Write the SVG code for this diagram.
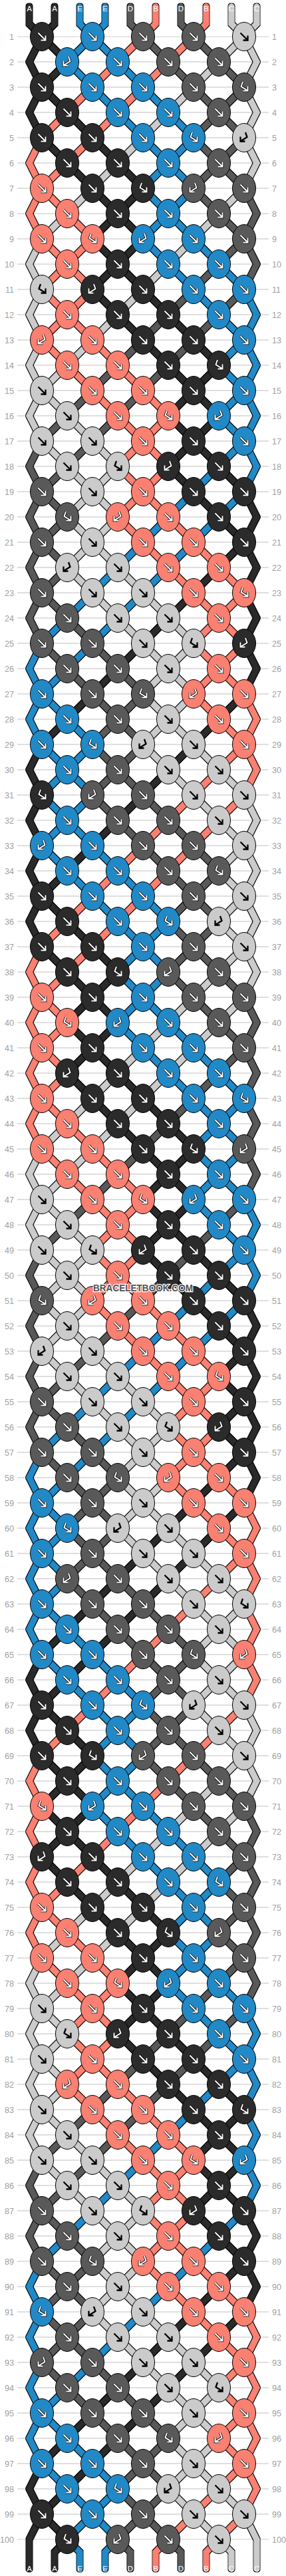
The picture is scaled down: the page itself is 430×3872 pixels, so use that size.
<svg xmlns="http://www.w3.org/2000/svg" xmlns:xlink="http://www.w3.org/1999/xlink" width="430" height="3872" viewBox="0 0 430 3872">
<style>
.a{stroke:#2b2b2b}.b{stroke:#fa8072}.c{stroke:#cbcbcb}.d{stroke:#595959}.e{stroke:#2289c7}
#connectors path{fill:none;stroke-width:9;stroke-linecap:round;stroke-linejoin:miter}
ellipse{stroke:#000;stroke-width:1}
.ka{fill:#2b2b2b}.kb{fill:#fa8072}.kc{fill:#cbcbcb}.kd{fill:#595959}.ke{fill:#2289c7}
.o{fill:none;stroke:#000;stroke-width:3.6}
.w{fill:none;stroke:#fff;stroke-width:2}
.k{fill:none;stroke:#000;stroke-width:2.3}
.rl{font-family:"Liberation Sans",Arial,sans-serif;font-size:12.6px;fill:#a0a0a0}
.sl{font-family:"Liberation Sans",Arial,sans-serif;font-size:11.5px;fill:#fff;text-anchor:middle}
.wm{font-family:"Liberation Sans",Arial,sans-serif;font-weight:bold;font-size:14.5px;fill:#505050;stroke:#fff;stroke-width:2.5;paint-order:stroke;text-anchor:middle}
</style>
<defs>
<filter id="ol"><feMorphology in="SourceAlpha" operator="dilate" radius="1" result="m"/><feFlood flood-color="#000"/><feComposite in2="m" operator="in"/><feMerge><feMergeNode/><feMergeNode in="SourceGraphic"/></feMerge></filter>
<pattern id="rp" width="430" height="38" patternUnits="userSpaceOnUse" y="54.5"><rect width="430" height="1" fill="#bfbfbf"/></pattern>
<path id="gf" d="M-5.5-5.5L5 5M5.5-1.5V5.5H-1.5"/>
<path id="gfb" d="M-2-8L-4.5-1L5 5M5.5-1.5V5.5H-1.5"/>
<path id="gbf" d="M2-8L4.5-1L-5 5M-5.5-1.5V5.5H1.5"/>
<g id="Af"><ellipse class="ka" rx="17.5" ry="21.5"/><use href="#gf" class="o"/><use href="#gf" class="w"/></g>
<g id="Afb"><ellipse class="ka" rx="17.5" ry="21.5"/><use href="#gfb" class="o"/><use href="#gfb" class="w"/></g>
<g id="Abf"><ellipse class="ka" rx="17.5" ry="21.5"/><use href="#gbf" class="o"/><use href="#gbf" class="w"/></g>
<g id="Bf"><ellipse class="kb" rx="17.5" ry="21.5"/><use href="#gf" class="o"/><use href="#gf" class="w"/></g>
<g id="Bfb"><ellipse class="kb" rx="17.5" ry="21.5"/><use href="#gfb" class="o"/><use href="#gfb" class="w"/></g>
<g id="Bbf"><ellipse class="kb" rx="17.5" ry="21.5"/><use href="#gbf" class="o"/><use href="#gbf" class="w"/></g>
<g id="Df"><ellipse class="kd" rx="17.5" ry="21.5"/><use href="#gf" class="o"/><use href="#gf" class="w"/></g>
<g id="Dfb"><ellipse class="kd" rx="17.5" ry="21.5"/><use href="#gfb" class="o"/><use href="#gfb" class="w"/></g>
<g id="Dbf"><ellipse class="kd" rx="17.5" ry="21.5"/><use href="#gbf" class="o"/><use href="#gbf" class="w"/></g>
<g id="Ef"><ellipse class="ke" rx="17.5" ry="21.5"/><use href="#gf" class="o"/><use href="#gf" class="w"/></g>
<g id="Efb"><ellipse class="ke" rx="17.5" ry="21.5"/><use href="#gfb" class="o"/><use href="#gfb" class="w"/></g>
<g id="Ebf"><ellipse class="ke" rx="17.5" ry="21.5"/><use href="#gbf" class="o"/><use href="#gbf" class="w"/></g>
<g id="Cf"><ellipse class="kc" rx="17.5" ry="21.5"/><use href="#gf" class="k"/></g>
<g id="Cfb"><ellipse class="kc" rx="17.5" ry="21.5"/><use href="#gfb" class="k"/></g>
<g id="Cbf"><ellipse class="kc" rx="17.5" ry="21.5"/><use href="#gbf" class="k"/></g>
</defs>
<rect width="430" height="3872" fill="#fff"/>
<rect x="26" y="54.5" width="378" height="3763" fill="url(#rp)"/>
<g text-anchor="end"><g id="rows" class="rl">
<text x="21" y="59.5">1</text><text x="21" y="97.5">2</text><text x="21" y="135.5">3</text><text x="21" y="173.5">4</text><text x="21" y="211.5">5</text><text x="21" y="249.5">6</text><text x="21" y="287.5">7</text><text x="21" y="325.5">8</text><text x="21" y="363.5">9</text><text x="21" y="401.5">10</text>
<text x="21" y="439.5">11</text><text x="21" y="477.5">12</text><text x="21" y="515.5">13</text><text x="21" y="553.5">14</text><text x="21" y="591.5">15</text><text x="21" y="629.5">16</text><text x="21" y="667.5">17</text><text x="21" y="705.5">18</text><text x="21" y="743.5">19</text><text x="21" y="781.5">20</text>
<text x="21" y="819.5">21</text><text x="21" y="857.5">22</text><text x="21" y="895.5">23</text><text x="21" y="933.5">24</text><text x="21" y="971.5">25</text><text x="21" y="1009.5">26</text><text x="21" y="1047.5">27</text><text x="21" y="1085.5">28</text><text x="21" y="1123.5">29</text><text x="21" y="1161.5">30</text>
<text x="21" y="1199.5">31</text><text x="21" y="1237.5">32</text><text x="21" y="1275.5">33</text><text x="21" y="1313.5">34</text><text x="21" y="1351.5">35</text><text x="21" y="1389.5">36</text><text x="21" y="1427.5">37</text><text x="21" y="1465.5">38</text><text x="21" y="1503.5">39</text><text x="21" y="1541.5">40</text>
<text x="21" y="1579.5">41</text><text x="21" y="1617.5">42</text><text x="21" y="1655.5">43</text><text x="21" y="1693.5">44</text><text x="21" y="1731.5">45</text><text x="21" y="1769.5">46</text><text x="21" y="1807.5">47</text><text x="21" y="1845.5">48</text><text x="21" y="1883.5">49</text><text x="21" y="1921.5">50</text>
<text x="21" y="1959.5">51</text><text x="21" y="1997.5">52</text><text x="21" y="2035.5">53</text><text x="21" y="2073.5">54</text><text x="21" y="2111.5">55</text><text x="21" y="2149.5">56</text><text x="21" y="2187.5">57</text><text x="21" y="2225.5">58</text><text x="21" y="2263.5">59</text><text x="21" y="2301.5">60</text>
<text x="21" y="2339.5">61</text><text x="21" y="2377.5">62</text><text x="21" y="2415.5">63</text><text x="21" y="2453.5">64</text><text x="21" y="2491.5">65</text><text x="21" y="2529.5">66</text><text x="21" y="2567.5">67</text><text x="21" y="2605.5">68</text><text x="21" y="2643.5">69</text><text x="21" y="2681.5">70</text>
<text x="21" y="2719.5">71</text><text x="21" y="2757.5">72</text><text x="21" y="2795.5">73</text><text x="21" y="2833.5">74</text><text x="21" y="2871.5">75</text><text x="21" y="2909.5">76</text><text x="21" y="2947.5">77</text><text x="21" y="2985.5">78</text><text x="21" y="3023.5">79</text><text x="21" y="3061.5">80</text>
<text x="21" y="3099.5">81</text><text x="21" y="3137.5">82</text><text x="21" y="3175.5">83</text><text x="21" y="3213.5">84</text><text x="21" y="3251.5">85</text><text x="21" y="3289.5">86</text><text x="21" y="3327.5">87</text><text x="21" y="3365.5">88</text><text x="21" y="3403.5">89</text><text x="21" y="3441.5">90</text>
<text x="21" y="3479.5">91</text><text x="21" y="3517.5">92</text><text x="21" y="3555.5">93</text><text x="21" y="3593.5">94</text><text x="21" y="3631.5">95</text><text x="21" y="3669.5">96</text><text x="21" y="3707.5">97</text><text x="21" y="3745.5">98</text><text x="21" y="3783.5">99</text><text x="21" y="3821.5">100</text>
</g></g>
<use href="#rows" x="388" text-anchor="start"/>
<g id="connectors" filter="url(#ol)">
<path class="a" d="M44 10V36L63 55M82 10V36L63 55"/><path class="e" d="M120 10V36L139 55M158 10V36L139 55"/><path class="d" d="M196 10V36L215 55M272 10V36L291 55"/><path class="b" d="M234 10V36L215 55M310 10V36L291 55"/><path class="c" d="M348 10V36L367 55M386 10V36L367 55"/>
<path class="a" d="M63 55l-19 38 19 38-19 38 19 38"/><path class="b" d="M63 207l-19 38 19 38-19 38 19 38"/><path class="c" d="M63 359l-19 38 19 38-19 38 19 38-19 38 19 38-19 38 19 38"/><path class="d" d="M63 663l-19 38 19 38-19 38 19 38-19 38 19 38-19 38 19 38"/><path class="e" d="M63 967l-19 38 19 38-19 38 19 38"/><path class="a" d="M63 1119l-19 38 19 38-19 38 19 38-19 38 19 38-19 38 19 38"/><path class="b" d="M63 1423l-19 38 19 38-19 38 19 38-19 38 19 38-19 38 19 38"/><path class="c" d="M63 1727l-19 38 19 38-19 38 19 38"/><path class="d" d="M63 1879l-19 38 19 38-19 38 19 38-19 38 19 38-19 38 19 38"/><path class="e" d="M63 2183l-19 38 19 38-19 38 19 38-19 38 19 38-19 38 19 38"/><path class="a" d="M63 2487l-19 38 19 38-19 38 19 38"/><path class="b" d="M63 2639l-19 38 19 38-19 38 19 38-19 38 19 38-19 38 19 38"/><path class="c" d="M63 2943l-19 38 19 38-19 38 19 38-19 38 19 38-19 38 19 38"/><path class="d" d="M63 3247l-19 38 19 38-19 38 19 38"/><path class="e" d="M63 3399l-19 38 19 38-19 38 19 38-19 38 19 38-19 38 19 38"/><path class="a" d="M63 3703l-19 38 19 38-19 38V3861"/>
<path class="c" d="M367 55l19 38-19 38 19 38-19 38 19 38-19 38"/><path class="d" d="M367 283l19 38-19 38 19 38-19 38"/><path class="e" d="M367 435l19 38-19 38 19 38-19 38 19 38-19 38 19 38-19 38"/><path class="a" d="M367 739l19 38-19 38 19 38-19 38 19 38-19 38 19 38-19 38"/><path class="b" d="M367 1043l19 38-19 38 19 38-19 38"/><path class="c" d="M367 1195l19 38-19 38 19 38-19 38 19 38-19 38 19 38-19 38"/><path class="d" d="M367 1499l19 38-19 38 19 38-19 38 19 38-19 38 19 38-19 38"/><path class="e" d="M367 1803l19 38-19 38 19 38-19 38"/><path class="a" d="M367 1955l19 38-19 38 19 38-19 38 19 38-19 38 19 38-19 38"/><path class="b" d="M367 2259l19 38-19 38 19 38-19 38 19 38-19 38 19 38-19 38"/><path class="c" d="M367 2563l19 38-19 38 19 38-19 38"/><path class="d" d="M367 2715l19 38-19 38 19 38-19 38 19 38-19 38 19 38-19 38"/><path class="e" d="M367 3019l19 38-19 38 19 38-19 38 19 38-19 38 19 38-19 38"/><path class="a" d="M367 3323l19 38-19 38 19 38-19 38"/><path class="b" d="M367 3475l19 38-19 38 19 38-19 38 19 38-19 38 19 38-19 38"/><path class="c" d="M367 3779l19 38V3861"/>
<path class="a" d="M101 3817L82 3836V3861"/><path class="e" d="M101 3817L120 3836V3861M177 3817L158 3836V3861"/><path class="d" d="M177 3817L196 3836V3861M253 3817L272 3836V3861"/><path class="b" d="M253 3817L234 3836V3861M329 3817L310 3836V3861"/><path class="c" d="M329 3817L348 3836V3861"/>
<path class="a" d="M63 55l38 38"/><path class="e" d="M139 55l-38 38M139 55l38 38"/><path class="b" d="M215 55l-38 38M291 55l-38 38"/><path class="d" d="M215 55l38 38M291 55l38 38"/><path class="c" d="M367 55l-38 38"/>
<path class="a" d="M101 93l-38 38"/><path class="e" d="M101 93l38 38M177 93l38 38"/><path class="b" d="M177 93l-38 38M253 93l-38 38"/><path class="d" d="M253 93l38 38M329 93l38 38"/><path class="c" d="M329 93l-38 38"/>
<path class="a" d="M63 131l38 38"/><path class="b" d="M139 131l-38 38M215 131l-38 38"/><path class="e" d="M139 131l38 38M215 131l38 38"/><path class="c" d="M291 131l-38 38"/><path class="d" d="M291 131l38 38M367 131l-38 38"/>
<path class="b" d="M101 169l-38 38M177 169l-38 38"/><path class="a" d="M101 169l38 38"/><path class="e" d="M177 169l38 38M253 169l38 38"/><path class="c" d="M253 169l-38 38"/><path class="d" d="M329 169l-38 38M329 169l38 38"/>
<path class="a" d="M63 207l38 38M139 207l38 38"/><path class="b" d="M139 207l-38 38"/><path class="c" d="M215 207l-38 38"/><path class="e" d="M215 207l38 38M291 207l-38 38"/><path class="d" d="M291 207l38 38M367 207l-38 38"/>
<path class="b" d="M101 245l-38 38"/><path class="a" d="M101 245l38 38M177 245l38 38"/><path class="c" d="M177 245l-38 38"/><path class="e" d="M253 245l-38 38M253 245l38 38"/><path class="d" d="M329 245l-38 38M329 245l38 38"/>
<path class="b" d="M63 283l38 38"/><path class="c" d="M139 283l-38 38M367 283l-38 38"/><path class="a" d="M139 283l38 38M215 283l-38 38"/><path class="e" d="M215 283l38 38M291 283l-38 38"/><path class="d" d="M291 283l38 38"/>
<path class="c" d="M101 321l-38 38M329 321l-38 38"/><path class="b" d="M101 321l38 38"/><path class="a" d="M177 321l-38 38M177 321l38 38"/><path class="e" d="M253 321l-38 38M253 321l38 38"/><path class="d" d="M329 321l38 38"/>
<path class="b" d="M63 359l38 38M139 359l-38 38"/><path class="a" d="M139 359l38 38M215 359l-38 38"/><path class="e" d="M215 359l38 38M291 359l38 38"/><path class="c" d="M291 359l-38 38"/><path class="d" d="M367 359l-38 38"/>
<path class="b" d="M101 397l-38 38M101 397l38 38"/><path class="a" d="M177 397l-38 38M177 397l38 38"/><path class="c" d="M253 397l-38 38"/><path class="e" d="M253 397l38 38M329 397l38 38"/><path class="d" d="M329 397l-38 38"/>
<path class="b" d="M63 435l38 38M139 435l-38 38"/><path class="a" d="M139 435l38 38M215 435l38 38"/><path class="c" d="M215 435l-38 38"/><path class="d" d="M291 435l-38 38M367 435l-38 38"/><path class="e" d="M291 435l38 38"/>
<path class="b" d="M101 473l-38 38M101 473l38 38"/><path class="c" d="M177 473l-38 38"/><path class="a" d="M177 473l38 38M253 473l38 38"/><path class="d" d="M253 473l-38 38M329 473l-38 38"/><path class="e" d="M329 473l38 38"/>
<path class="b" d="M63 511l38 38M139 511l38 38"/><path class="c" d="M139 511l-38 38"/><path class="d" d="M215 511l-38 38M291 511l-38 38"/><path class="a" d="M215 511l38 38M291 511l38 38"/><path class="e" d="M367 511l-38 38"/>
<path class="c" d="M101 549l-38 38"/><path class="b" d="M101 549l38 38M177 549l38 38"/><path class="d" d="M177 549l-38 38M253 549l-38 38"/><path class="a" d="M253 549l38 38M329 549l-38 38"/><path class="e" d="M329 549l38 38"/>
<path class="c" d="M63 587l38 38"/><path class="d" d="M139 587l-38 38M215 587l-38 38"/><path class="b" d="M139 587l38 38M215 587l38 38"/><path class="a" d="M291 587l-38 38M291 587l38 38"/><path class="e" d="M367 587l-38 38"/>
<path class="d" d="M101 625l-38 38M177 625l-38 38"/><path class="c" d="M101 625l38 38"/><path class="b" d="M177 625l38 38M253 625l-38 38"/><path class="a" d="M253 625l38 38M329 625l-38 38"/><path class="e" d="M329 625l38 38"/>
<path class="c" d="M63 663l38 38M139 663l38 38"/><path class="d" d="M139 663l-38 38"/><path class="b" d="M215 663l-38 38M215 663l38 38"/><path class="a" d="M291 663l-38 38M291 663l38 38"/><path class="e" d="M367 663l-38 38"/>
<path class="d" d="M101 701l-38 38"/><path class="c" d="M101 701l38 38M177 701l-38 38"/><path class="b" d="M177 701l38 38M253 701l-38 38"/><path class="a" d="M253 701l38 38M329 701l38 38"/><path class="e" d="M329 701l-38 38"/>
<path class="d" d="M63 739l38 38"/><path class="c" d="M139 739l-38 38M139 739l38 38"/><path class="b" d="M215 739l-38 38M215 739l38 38"/><path class="e" d="M291 739l-38 38M367 739l-38 38"/><path class="a" d="M291 739l38 38"/>
<path class="d" d="M101 777l-38 38"/><path class="c" d="M101 777l38 38M177 777l-38 38"/><path class="b" d="M177 777l38 38M253 777l38 38"/><path class="e" d="M253 777l-38 38M329 777l-38 38"/><path class="a" d="M329 777l38 38"/>
<path class="d" d="M63 815l38 38"/><path class="c" d="M139 815l-38 38M139 815l38 38"/><path class="e" d="M215 815l-38 38M291 815l-38 38"/><path class="b" d="M215 815l38 38M291 815l38 38"/><path class="a" d="M367 815l-38 38"/>
<path class="d" d="M101 853l-38 38"/><path class="c" d="M101 853l38 38M177 853l38 38"/><path class="e" d="M177 853l-38 38M253 853l-38 38"/><path class="b" d="M253 853l38 38M329 853l38 38"/><path class="a" d="M329 853l-38 38"/>
<path class="d" d="M63 891l38 38"/><path class="e" d="M139 891l-38 38M215 891l-38 38"/><path class="c" d="M139 891l38 38M215 891l38 38"/><path class="a" d="M291 891l-38 38"/><path class="b" d="M291 891l38 38M367 891l-38 38"/>
<path class="e" d="M101 929l-38 38M177 929l-38 38"/><path class="d" d="M101 929l38 38"/><path class="c" d="M177 929l38 38M253 929l38 38"/><path class="a" d="M253 929l-38 38"/><path class="b" d="M329 929l-38 38M329 929l38 38"/>
<path class="d" d="M63 967l38 38M139 967l38 38"/><path class="e" d="M139 967l-38 38"/><path class="a" d="M215 967l-38 38"/><path class="c" d="M215 967l38 38M291 967l-38 38"/><path class="b" d="M291 967l38 38M367 967l-38 38"/>
<path class="e" d="M101 1005l-38 38"/><path class="d" d="M101 1005l38 38M177 1005l38 38"/><path class="a" d="M177 1005l-38 38"/><path class="c" d="M253 1005l-38 38M253 1005l38 38"/><path class="b" d="M329 1005l-38 38M329 1005l38 38"/>
<path class="e" d="M63 1043l38 38"/><path class="a" d="M139 1043l-38 38M367 1043l-38 38"/><path class="d" d="M139 1043l38 38M215 1043l-38 38"/><path class="c" d="M215 1043l38 38M291 1043l-38 38"/><path class="b" d="M291 1043l38 38"/>
<path class="a" d="M101 1081l-38 38M329 1081l-38 38"/><path class="e" d="M101 1081l38 38"/><path class="d" d="M177 1081l-38 38M177 1081l38 38"/><path class="c" d="M253 1081l-38 38M253 1081l38 38"/><path class="b" d="M329 1081l38 38"/>
<path class="e" d="M63 1119l38 38M139 1119l-38 38"/><path class="d" d="M139 1119l38 38M215 1119l-38 38"/><path class="c" d="M215 1119l38 38M291 1119l38 38"/><path class="a" d="M291 1119l-38 38"/><path class="b" d="M367 1119l-38 38"/>
<path class="e" d="M101 1157l-38 38M101 1157l38 38"/><path class="d" d="M177 1157l-38 38M177 1157l38 38"/><path class="a" d="M253 1157l-38 38"/><path class="c" d="M253 1157l38 38M329 1157l38 38"/><path class="b" d="M329 1157l-38 38"/>
<path class="e" d="M63 1195l38 38M139 1195l-38 38"/><path class="d" d="M139 1195l38 38M215 1195l38 38"/><path class="a" d="M215 1195l-38 38"/><path class="b" d="M291 1195l-38 38M367 1195l-38 38"/><path class="c" d="M291 1195l38 38"/>
<path class="e" d="M101 1233l-38 38M101 1233l38 38"/><path class="a" d="M177 1233l-38 38"/><path class="d" d="M177 1233l38 38M253 1233l38 38"/><path class="b" d="M253 1233l-38 38M329 1233l-38 38"/><path class="c" d="M329 1233l38 38"/>
<path class="e" d="M63 1271l38 38M139 1271l38 38"/><path class="a" d="M139 1271l-38 38"/><path class="b" d="M215 1271l-38 38M291 1271l-38 38"/><path class="d" d="M215 1271l38 38M291 1271l38 38"/><path class="c" d="M367 1271l-38 38"/>
<path class="a" d="M101 1309l-38 38"/><path class="e" d="M101 1309l38 38M177 1309l38 38"/><path class="b" d="M177 1309l-38 38M253 1309l-38 38"/><path class="d" d="M253 1309l38 38M329 1309l-38 38"/><path class="c" d="M329 1309l38 38"/>
<path class="a" d="M63 1347l38 38"/><path class="b" d="M139 1347l-38 38M215 1347l-38 38"/><path class="e" d="M139 1347l38 38M215 1347l38 38"/><path class="d" d="M291 1347l-38 38M291 1347l38 38"/><path class="c" d="M367 1347l-38 38"/>
<path class="b" d="M101 1385l-38 38M177 1385l-38 38"/><path class="a" d="M101 1385l38 38"/><path class="e" d="M177 1385l38 38M253 1385l-38 38"/><path class="d" d="M253 1385l38 38M329 1385l-38 38"/><path class="c" d="M329 1385l38 38"/>
<path class="a" d="M63 1423l38 38M139 1423l38 38"/><path class="b" d="M139 1423l-38 38"/><path class="e" d="M215 1423l-38 38M215 1423l38 38"/><path class="d" d="M291 1423l-38 38M291 1423l38 38"/><path class="c" d="M367 1423l-38 38"/>
<path class="b" d="M101 1461l-38 38"/><path class="a" d="M101 1461l38 38M177 1461l-38 38"/><path class="e" d="M177 1461l38 38M253 1461l-38 38"/><path class="d" d="M253 1461l38 38M329 1461l38 38"/><path class="c" d="M329 1461l-38 38"/>
<path class="b" d="M63 1499l38 38"/><path class="a" d="M139 1499l-38 38M139 1499l38 38"/><path class="e" d="M215 1499l-38 38M215 1499l38 38"/><path class="c" d="M291 1499l-38 38M367 1499l-38 38"/><path class="d" d="M291 1499l38 38"/>
<path class="b" d="M101 1537l-38 38"/><path class="a" d="M101 1537l38 38M177 1537l-38 38"/><path class="e" d="M177 1537l38 38M253 1537l38 38"/><path class="c" d="M253 1537l-38 38M329 1537l-38 38"/><path class="d" d="M329 1537l38 38"/>
<path class="b" d="M63 1575l38 38"/><path class="a" d="M139 1575l-38 38M139 1575l38 38"/><path class="c" d="M215 1575l-38 38M291 1575l-38 38"/><path class="e" d="M215 1575l38 38M291 1575l38 38"/><path class="d" d="M367 1575l-38 38"/>
<path class="b" d="M101 1613l-38 38"/><path class="a" d="M101 1613l38 38M177 1613l38 38"/><path class="c" d="M177 1613l-38 38M253 1613l-38 38"/><path class="e" d="M253 1613l38 38M329 1613l38 38"/><path class="d" d="M329 1613l-38 38"/>
<path class="b" d="M63 1651l38 38"/><path class="c" d="M139 1651l-38 38M215 1651l-38 38"/><path class="a" d="M139 1651l38 38M215 1651l38 38"/><path class="d" d="M291 1651l-38 38"/><path class="e" d="M291 1651l38 38M367 1651l-38 38"/>
<path class="c" d="M101 1689l-38 38M177 1689l-38 38"/><path class="b" d="M101 1689l38 38"/><path class="a" d="M177 1689l38 38M253 1689l38 38"/><path class="d" d="M253 1689l-38 38"/><path class="e" d="M329 1689l-38 38M329 1689l38 38"/>
<path class="b" d="M63 1727l38 38M139 1727l38 38"/><path class="c" d="M139 1727l-38 38"/><path class="d" d="M215 1727l-38 38"/><path class="a" d="M215 1727l38 38M291 1727l-38 38"/><path class="e" d="M291 1727l38 38M367 1727l-38 38"/>
<path class="c" d="M101 1765l-38 38"/><path class="b" d="M101 1765l38 38M177 1765l38 38"/><path class="d" d="M177 1765l-38 38"/><path class="a" d="M253 1765l-38 38M253 1765l38 38"/><path class="e" d="M329 1765l-38 38M329 1765l38 38"/>
<path class="c" d="M63 1803l38 38"/><path class="d" d="M139 1803l-38 38M367 1803l-38 38"/><path class="b" d="M139 1803l38 38M215 1803l-38 38"/><path class="a" d="M215 1803l38 38M291 1803l-38 38"/><path class="e" d="M291 1803l38 38"/>
<path class="d" d="M101 1841l-38 38M329 1841l-38 38"/><path class="c" d="M101 1841l38 38"/><path class="b" d="M177 1841l-38 38M177 1841l38 38"/><path class="a" d="M253 1841l-38 38M253 1841l38 38"/><path class="e" d="M329 1841l38 38"/>
<path class="c" d="M63 1879l38 38M139 1879l-38 38"/><path class="b" d="M139 1879l38 38M215 1879l-38 38"/><path class="a" d="M215 1879l38 38M291 1879l38 38"/><path class="d" d="M291 1879l-38 38"/><path class="e" d="M367 1879l-38 38"/>
<path class="c" d="M101 1917l-38 38M101 1917l38 38"/><path class="b" d="M177 1917l-38 38M177 1917l38 38"/><path class="d" d="M253 1917l-38 38"/><path class="a" d="M253 1917l38 38M329 1917l38 38"/><path class="e" d="M329 1917l-38 38"/>
<path class="c" d="M63 1955l38 38M139 1955l-38 38"/><path class="b" d="M139 1955l38 38M215 1955l38 38"/><path class="d" d="M215 1955l-38 38"/><path class="e" d="M291 1955l-38 38M367 1955l-38 38"/><path class="a" d="M291 1955l38 38"/>
<path class="c" d="M101 1993l-38 38M101 1993l38 38"/><path class="d" d="M177 1993l-38 38"/><path class="b" d="M177 1993l38 38M253 1993l38 38"/><path class="e" d="M253 1993l-38 38M329 1993l-38 38"/><path class="a" d="M329 1993l38 38"/>
<path class="c" d="M63 2031l38 38M139 2031l38 38"/><path class="d" d="M139 2031l-38 38"/><path class="e" d="M215 2031l-38 38M291 2031l-38 38"/><path class="b" d="M215 2031l38 38M291 2031l38 38"/><path class="a" d="M367 2031l-38 38"/>
<path class="d" d="M101 2069l-38 38"/><path class="c" d="M101 2069l38 38M177 2069l38 38"/><path class="e" d="M177 2069l-38 38M253 2069l-38 38"/><path class="b" d="M253 2069l38 38M329 2069l-38 38"/><path class="a" d="M329 2069l38 38"/>
<path class="d" d="M63 2107l38 38"/><path class="e" d="M139 2107l-38 38M215 2107l-38 38"/><path class="c" d="M139 2107l38 38M215 2107l38 38"/><path class="b" d="M291 2107l-38 38M291 2107l38 38"/><path class="a" d="M367 2107l-38 38"/>
<path class="e" d="M101 2145l-38 38M177 2145l-38 38"/><path class="d" d="M101 2145l38 38"/><path class="c" d="M177 2145l38 38M253 2145l-38 38"/><path class="b" d="M253 2145l38 38M329 2145l-38 38"/><path class="a" d="M329 2145l38 38"/>
<path class="d" d="M63 2183l38 38M139 2183l38 38"/><path class="e" d="M139 2183l-38 38"/><path class="c" d="M215 2183l-38 38M215 2183l38 38"/><path class="b" d="M291 2183l-38 38M291 2183l38 38"/><path class="a" d="M367 2183l-38 38"/>
<path class="e" d="M101 2221l-38 38"/><path class="d" d="M101 2221l38 38M177 2221l-38 38"/><path class="c" d="M177 2221l38 38M253 2221l-38 38"/><path class="b" d="M253 2221l38 38M329 2221l38 38"/><path class="a" d="M329 2221l-38 38"/>
<path class="e" d="M63 2259l38 38"/><path class="d" d="M139 2259l-38 38M139 2259l38 38"/><path class="c" d="M215 2259l-38 38M215 2259l38 38"/><path class="a" d="M291 2259l-38 38M367 2259l-38 38"/><path class="b" d="M291 2259l38 38"/>
<path class="e" d="M101 2297l-38 38"/><path class="d" d="M101 2297l38 38M177 2297l-38 38"/><path class="c" d="M177 2297l38 38M253 2297l38 38"/><path class="a" d="M253 2297l-38 38M329 2297l-38 38"/><path class="b" d="M329 2297l38 38"/>
<path class="e" d="M63 2335l38 38"/><path class="d" d="M139 2335l-38 38M139 2335l38 38"/><path class="a" d="M215 2335l-38 38M291 2335l-38 38"/><path class="c" d="M215 2335l38 38M291 2335l38 38"/><path class="b" d="M367 2335l-38 38"/>
<path class="e" d="M101 2373l-38 38"/><path class="d" d="M101 2373l38 38M177 2373l38 38"/><path class="a" d="M177 2373l-38 38M253 2373l-38 38"/><path class="c" d="M253 2373l38 38M329 2373l38 38"/><path class="b" d="M329 2373l-38 38"/>
<path class="e" d="M63 2411l38 38"/><path class="a" d="M139 2411l-38 38M215 2411l-38 38"/><path class="d" d="M139 2411l38 38M215 2411l38 38"/><path class="b" d="M291 2411l-38 38"/><path class="c" d="M291 2411l38 38M367 2411l-38 38"/>
<path class="a" d="M101 2449l-38 38M177 2449l-38 38"/><path class="e" d="M101 2449l38 38"/><path class="d" d="M177 2449l38 38M253 2449l38 38"/><path class="b" d="M253 2449l-38 38"/><path class="c" d="M329 2449l-38 38M329 2449l38 38"/>
<path class="e" d="M63 2487l38 38M139 2487l38 38"/><path class="a" d="M139 2487l-38 38"/><path class="b" d="M215 2487l-38 38"/><path class="d" d="M215 2487l38 38M291 2487l-38 38"/><path class="c" d="M291 2487l38 38M367 2487l-38 38"/>
<path class="a" d="M101 2525l-38 38"/><path class="e" d="M101 2525l38 38M177 2525l38 38"/><path class="b" d="M177 2525l-38 38"/><path class="d" d="M253 2525l-38 38M253 2525l38 38"/><path class="c" d="M329 2525l-38 38M329 2525l38 38"/>
<path class="a" d="M63 2563l38 38"/><path class="b" d="M139 2563l-38 38M367 2563l-38 38"/><path class="e" d="M139 2563l38 38M215 2563l-38 38"/><path class="d" d="M215 2563l38 38M291 2563l-38 38"/><path class="c" d="M291 2563l38 38"/>
<path class="b" d="M101 2601l-38 38M329 2601l-38 38"/><path class="a" d="M101 2601l38 38"/><path class="e" d="M177 2601l-38 38M177 2601l38 38"/><path class="d" d="M253 2601l-38 38M253 2601l38 38"/><path class="c" d="M329 2601l38 38"/>
<path class="a" d="M63 2639l38 38M139 2639l-38 38"/><path class="e" d="M139 2639l38 38M215 2639l-38 38"/><path class="d" d="M215 2639l38 38M291 2639l38 38"/><path class="b" d="M291 2639l-38 38"/><path class="c" d="M367 2639l-38 38"/>
<path class="a" d="M101 2677l-38 38M101 2677l38 38"/><path class="e" d="M177 2677l-38 38M177 2677l38 38"/><path class="b" d="M253 2677l-38 38"/><path class="d" d="M253 2677l38 38M329 2677l38 38"/><path class="c" d="M329 2677l-38 38"/>
<path class="a" d="M63 2715l38 38M139 2715l-38 38"/><path class="e" d="M139 2715l38 38M215 2715l38 38"/><path class="b" d="M215 2715l-38 38"/><path class="c" d="M291 2715l-38 38M367 2715l-38 38"/><path class="d" d="M291 2715l38 38"/>
<path class="a" d="M101 2753l-38 38M101 2753l38 38"/><path class="b" d="M177 2753l-38 38"/><path class="e" d="M177 2753l38 38M253 2753l38 38"/><path class="c" d="M253 2753l-38 38M329 2753l-38 38"/><path class="d" d="M329 2753l38 38"/>
<path class="a" d="M63 2791l38 38M139 2791l38 38"/><path class="b" d="M139 2791l-38 38"/><path class="c" d="M215 2791l-38 38M291 2791l-38 38"/><path class="e" d="M215 2791l38 38M291 2791l38 38"/><path class="d" d="M367 2791l-38 38"/>
<path class="b" d="M101 2829l-38 38"/><path class="a" d="M101 2829l38 38M177 2829l38 38"/><path class="c" d="M177 2829l-38 38M253 2829l-38 38"/><path class="e" d="M253 2829l38 38M329 2829l-38 38"/><path class="d" d="M329 2829l38 38"/>
<path class="b" d="M63 2867l38 38"/><path class="c" d="M139 2867l-38 38M215 2867l-38 38"/><path class="a" d="M139 2867l38 38M215 2867l38 38"/><path class="e" d="M291 2867l-38 38M291 2867l38 38"/><path class="d" d="M367 2867l-38 38"/>
<path class="c" d="M101 2905l-38 38M177 2905l-38 38"/><path class="b" d="M101 2905l38 38"/><path class="a" d="M177 2905l38 38M253 2905l-38 38"/><path class="e" d="M253 2905l38 38M329 2905l-38 38"/><path class="d" d="M329 2905l38 38"/>
<path class="b" d="M63 2943l38 38M139 2943l38 38"/><path class="c" d="M139 2943l-38 38"/><path class="a" d="M215 2943l-38 38M215 2943l38 38"/><path class="e" d="M291 2943l-38 38M291 2943l38 38"/><path class="d" d="M367 2943l-38 38"/>
<path class="c" d="M101 2981l-38 38"/><path class="b" d="M101 2981l38 38M177 2981l-38 38"/><path class="a" d="M177 2981l38 38M253 2981l-38 38"/><path class="e" d="M253 2981l38 38M329 2981l38 38"/><path class="d" d="M329 2981l-38 38"/>
<path class="c" d="M63 3019l38 38"/><path class="b" d="M139 3019l-38 38M139 3019l38 38"/><path class="a" d="M215 3019l-38 38M215 3019l38 38"/><path class="d" d="M291 3019l-38 38M367 3019l-38 38"/><path class="e" d="M291 3019l38 38"/>
<path class="c" d="M101 3057l-38 38"/><path class="b" d="M101 3057l38 38M177 3057l-38 38"/><path class="a" d="M177 3057l38 38M253 3057l38 38"/><path class="d" d="M253 3057l-38 38M329 3057l-38 38"/><path class="e" d="M329 3057l38 38"/>
<path class="c" d="M63 3095l38 38"/><path class="b" d="M139 3095l-38 38M139 3095l38 38"/><path class="d" d="M215 3095l-38 38M291 3095l-38 38"/><path class="a" d="M215 3095l38 38M291 3095l38 38"/><path class="e" d="M367 3095l-38 38"/>
<path class="c" d="M101 3133l-38 38"/><path class="b" d="M101 3133l38 38M177 3133l38 38"/><path class="d" d="M177 3133l-38 38M253 3133l-38 38"/><path class="a" d="M253 3133l38 38M329 3133l38 38"/><path class="e" d="M329 3133l-38 38"/>
<path class="c" d="M63 3171l38 38"/><path class="d" d="M139 3171l-38 38M215 3171l-38 38"/><path class="b" d="M139 3171l38 38M215 3171l38 38"/><path class="e" d="M291 3171l-38 38"/><path class="a" d="M291 3171l38 38M367 3171l-38 38"/>
<path class="d" d="M101 3209l-38 38M177 3209l-38 38"/><path class="c" d="M101 3209l38 38"/><path class="b" d="M177 3209l38 38M253 3209l38 38"/><path class="e" d="M253 3209l-38 38"/><path class="a" d="M329 3209l-38 38M329 3209l38 38"/>
<path class="c" d="M63 3247l38 38M139 3247l38 38"/><path class="d" d="M139 3247l-38 38"/><path class="e" d="M215 3247l-38 38"/><path class="b" d="M215 3247l38 38M291 3247l-38 38"/><path class="a" d="M291 3247l38 38M367 3247l-38 38"/>
<path class="d" d="M101 3285l-38 38"/><path class="c" d="M101 3285l38 38M177 3285l38 38"/><path class="e" d="M177 3285l-38 38"/><path class="b" d="M253 3285l-38 38M253 3285l38 38"/><path class="a" d="M329 3285l-38 38M329 3285l38 38"/>
<path class="d" d="M63 3323l38 38"/><path class="e" d="M139 3323l-38 38M367 3323l-38 38"/><path class="c" d="M139 3323l38 38M215 3323l-38 38"/><path class="b" d="M215 3323l38 38M291 3323l-38 38"/><path class="a" d="M291 3323l38 38"/>
<path class="e" d="M101 3361l-38 38M329 3361l-38 38"/><path class="d" d="M101 3361l38 38"/><path class="c" d="M177 3361l-38 38M177 3361l38 38"/><path class="b" d="M253 3361l-38 38M253 3361l38 38"/><path class="a" d="M329 3361l38 38"/>
<path class="d" d="M63 3399l38 38M139 3399l-38 38"/><path class="c" d="M139 3399l38 38M215 3399l-38 38"/><path class="b" d="M215 3399l38 38M291 3399l38 38"/><path class="e" d="M291 3399l-38 38"/><path class="a" d="M367 3399l-38 38"/>
<path class="d" d="M101 3437l-38 38M101 3437l38 38"/><path class="c" d="M177 3437l-38 38M177 3437l38 38"/><path class="e" d="M253 3437l-38 38"/><path class="b" d="M253 3437l38 38M329 3437l38 38"/><path class="a" d="M329 3437l-38 38"/>
<path class="d" d="M63 3475l38 38M139 3475l-38 38"/><path class="c" d="M139 3475l38 38M215 3475l38 38"/><path class="e" d="M215 3475l-38 38"/><path class="a" d="M291 3475l-38 38M367 3475l-38 38"/><path class="b" d="M291 3475l38 38"/>
<path class="d" d="M101 3513l-38 38M101 3513l38 38"/><path class="e" d="M177 3513l-38 38"/><path class="c" d="M177 3513l38 38M253 3513l38 38"/><path class="a" d="M253 3513l-38 38M329 3513l-38 38"/><path class="b" d="M329 3513l38 38"/>
<path class="d" d="M63 3551l38 38M139 3551l38 38"/><path class="e" d="M139 3551l-38 38"/><path class="a" d="M215 3551l-38 38M291 3551l-38 38"/><path class="c" d="M215 3551l38 38M291 3551l38 38"/><path class="b" d="M367 3551l-38 38"/>
<path class="e" d="M101 3589l-38 38"/><path class="d" d="M101 3589l38 38M177 3589l38 38"/><path class="a" d="M177 3589l-38 38M253 3589l-38 38"/><path class="c" d="M253 3589l38 38M329 3589l-38 38"/><path class="b" d="M329 3589l38 38"/>
<path class="e" d="M63 3627l38 38"/><path class="a" d="M139 3627l-38 38M215 3627l-38 38"/><path class="d" d="M139 3627l38 38M215 3627l38 38"/><path class="c" d="M291 3627l-38 38M291 3627l38 38"/><path class="b" d="M367 3627l-38 38"/>
<path class="a" d="M101 3665l-38 38M177 3665l-38 38"/><path class="e" d="M101 3665l38 38"/><path class="d" d="M177 3665l38 38M253 3665l-38 38"/><path class="c" d="M253 3665l38 38M329 3665l-38 38"/><path class="b" d="M329 3665l38 38"/>
<path class="e" d="M63 3703l38 38M139 3703l38 38"/><path class="a" d="M139 3703l-38 38"/><path class="d" d="M215 3703l-38 38M215 3703l38 38"/><path class="c" d="M291 3703l-38 38M291 3703l38 38"/><path class="b" d="M367 3703l-38 38"/>
<path class="a" d="M101 3741l-38 38"/><path class="e" d="M101 3741l38 38M177 3741l-38 38"/><path class="d" d="M177 3741l38 38M253 3741l-38 38"/><path class="c" d="M253 3741l38 38M329 3741l38 38"/><path class="b" d="M329 3741l-38 38"/>
<path class="a" d="M63 3779l38 38"/><path class="e" d="M139 3779l-38 38M139 3779l38 38"/><path class="d" d="M215 3779l-38 38M215 3779l38 38"/><path class="b" d="M291 3779l-38 38M367 3779l-38 38"/><path class="c" d="M291 3779l38 38"/>
</g>
<g id="knots">
<g id="k1-1"><use href="#Af" x="63" y="55"/></g><g id="k1-2"><use href="#Ef" x="139" y="55"/></g><g id="k1-3"><use href="#Df" x="215" y="55"/></g><g id="k1-4"><use href="#Df" x="291" y="55"/></g><g id="k1-5"><use href="#Cf" x="367" y="55"/></g>
<g id="k2-1"><use href="#Ebf" x="101" y="93"/></g><g id="k2-2"><use href="#Ef" x="177" y="93"/></g><g id="k2-3"><use href="#Df" x="253" y="93"/></g><g id="k2-4"><use href="#Df" x="329" y="93"/></g>
<g id="k3-1"><use href="#Af" x="63" y="131"/></g><g id="k3-2"><use href="#Ef" x="139" y="131"/></g><g id="k3-3"><use href="#Ef" x="215" y="131"/></g><g id="k3-4"><use href="#Df" x="291" y="131"/></g><g id="k3-5"><use href="#Dfb" x="367" y="131"/></g>
<g id="k4-1"><use href="#Af" x="101" y="169"/></g><g id="k4-2"><use href="#Ef" x="177" y="169"/></g><g id="k4-3"><use href="#Ef" x="253" y="169"/></g><g id="k4-4"><use href="#Df" x="329" y="169"/></g>
<g id="k5-1"><use href="#Af" x="63" y="207"/></g><g id="k5-2"><use href="#Af" x="139" y="207"/></g><g id="k5-3"><use href="#Ef" x="215" y="207"/></g><g id="k5-4"><use href="#Efb" x="291" y="207"/></g><g id="k5-5"><use href="#Cbf" x="367" y="207"/></g>
<g id="k6-1"><use href="#Af" x="101" y="245"/></g><g id="k6-2"><use href="#Af" x="177" y="245"/></g><g id="k6-3"><use href="#Ef" x="253" y="245"/></g><g id="k6-4"><use href="#Df" x="329" y="245"/></g>
<g id="k7-1"><use href="#Bf" x="63" y="283"/></g><g id="k7-2"><use href="#Af" x="139" y="283"/></g><g id="k7-3"><use href="#Afb" x="215" y="283"/></g><g id="k7-4"><use href="#Dbf" x="291" y="283"/></g><g id="k7-5"><use href="#Df" x="367" y="283"/></g>
<g id="k8-1"><use href="#Bf" x="101" y="321"/></g><g id="k8-2"><use href="#Af" x="177" y="321"/></g><g id="k8-3"><use href="#Ef" x="253" y="321"/></g><g id="k8-4"><use href="#Df" x="329" y="321"/></g>
<g id="k9-1"><use href="#Bf" x="63" y="359"/></g><g id="k9-2"><use href="#Bfb" x="139" y="359"/></g><g id="k9-3"><use href="#Ebf" x="215" y="359"/></g><g id="k9-4"><use href="#Ef" x="291" y="359"/></g><g id="k9-5"><use href="#Df" x="367" y="359"/></g>
<g id="k10-1"><use href="#Bf" x="101" y="397"/></g><g id="k10-2"><use href="#Af" x="177" y="397"/></g><g id="k10-3"><use href="#Ef" x="253" y="397"/></g><g id="k10-4"><use href="#Ef" x="329" y="397"/></g>
<g id="k11-1"><use href="#Cfb" x="63" y="435"/></g><g id="k11-2"><use href="#Abf" x="139" y="435"/></g><g id="k11-3"><use href="#Af" x="215" y="435"/></g><g id="k11-4"><use href="#Ef" x="291" y="435"/></g><g id="k11-5"><use href="#Ef" x="367" y="435"/></g>
<g id="k12-1"><use href="#Bf" x="101" y="473"/></g><g id="k12-2"><use href="#Af" x="177" y="473"/></g><g id="k12-3"><use href="#Af" x="253" y="473"/></g><g id="k12-4"><use href="#Ef" x="329" y="473"/></g>
<g id="k13-1"><use href="#Bbf" x="63" y="511"/></g><g id="k13-2"><use href="#Bf" x="139" y="511"/></g><g id="k13-3"><use href="#Af" x="215" y="511"/></g><g id="k13-4"><use href="#Af" x="291" y="511"/></g><g id="k13-5"><use href="#Ef" x="367" y="511"/></g>
<g id="k14-1"><use href="#Bf" x="101" y="549"/></g><g id="k14-2"><use href="#Bf" x="177" y="549"/></g><g id="k14-3"><use href="#Af" x="253" y="549"/></g><g id="k14-4"><use href="#Afb" x="329" y="549"/></g>
<g id="k15-1"><use href="#Cf" x="63" y="587"/></g><g id="k15-2"><use href="#Bf" x="139" y="587"/></g><g id="k15-3"><use href="#Bf" x="215" y="587"/></g><g id="k15-4"><use href="#Af" x="291" y="587"/></g><g id="k15-5"><use href="#Ef" x="367" y="587"/></g>
<g id="k16-1"><use href="#Cf" x="101" y="625"/></g><g id="k16-2"><use href="#Bf" x="177" y="625"/></g><g id="k16-3"><use href="#Bfb" x="253" y="625"/></g><g id="k16-4"><use href="#Ebf" x="329" y="625"/></g>
<g id="k17-1"><use href="#Cf" x="63" y="663"/></g><g id="k17-2"><use href="#Cf" x="139" y="663"/></g><g id="k17-3"><use href="#Bf" x="215" y="663"/></g><g id="k17-4"><use href="#Af" x="291" y="663"/></g><g id="k17-5"><use href="#Ef" x="367" y="663"/></g>
<g id="k18-1"><use href="#Cf" x="101" y="701"/></g><g id="k18-2"><use href="#Cfb" x="177" y="701"/></g><g id="k18-3"><use href="#Abf" x="253" y="701"/></g><g id="k18-4"><use href="#Af" x="329" y="701"/></g>
<g id="k19-1"><use href="#Df" x="63" y="739"/></g><g id="k19-2"><use href="#Cf" x="139" y="739"/></g><g id="k19-3"><use href="#Bf" x="215" y="739"/></g><g id="k19-4"><use href="#Af" x="291" y="739"/></g><g id="k19-5"><use href="#Af" x="367" y="739"/></g>
<g id="k20-1"><use href="#Dfb" x="101" y="777"/></g><g id="k20-2"><use href="#Bbf" x="177" y="777"/></g><g id="k20-3"><use href="#Bf" x="253" y="777"/></g><g id="k20-4"><use href="#Af" x="329" y="777"/></g>
<g id="k21-1"><use href="#Df" x="63" y="815"/></g><g id="k21-2"><use href="#Cf" x="139" y="815"/></g><g id="k21-3"><use href="#Bf" x="215" y="815"/></g><g id="k21-4"><use href="#Bf" x="291" y="815"/></g><g id="k21-5"><use href="#Af" x="367" y="815"/></g>
<g id="k22-1"><use href="#Cbf" x="101" y="853"/></g><g id="k22-2"><use href="#Cf" x="177" y="853"/></g><g id="k22-3"><use href="#Bf" x="253" y="853"/></g><g id="k22-4"><use href="#Bf" x="329" y="853"/></g>
<g id="k23-1"><use href="#Df" x="63" y="891"/></g><g id="k23-2"><use href="#Cf" x="139" y="891"/></g><g id="k23-3"><use href="#Cf" x="215" y="891"/></g><g id="k23-4"><use href="#Bf" x="291" y="891"/></g><g id="k23-5"><use href="#Bfb" x="367" y="891"/></g>
<g id="k24-1"><use href="#Df" x="101" y="929"/></g><g id="k24-2"><use href="#Cf" x="177" y="929"/></g><g id="k24-3"><use href="#Cf" x="253" y="929"/></g><g id="k24-4"><use href="#Bf" x="329" y="929"/></g>
<g id="k25-1"><use href="#Df" x="63" y="967"/></g><g id="k25-2"><use href="#Df" x="139" y="967"/></g><g id="k25-3"><use href="#Cf" x="215" y="967"/></g><g id="k25-4"><use href="#Cfb" x="291" y="967"/></g><g id="k25-5"><use href="#Abf" x="367" y="967"/></g>
<g id="k26-1"><use href="#Df" x="101" y="1005"/></g><g id="k26-2"><use href="#Df" x="177" y="1005"/></g><g id="k26-3"><use href="#Cf" x="253" y="1005"/></g><g id="k26-4"><use href="#Bf" x="329" y="1005"/></g>
<g id="k27-1"><use href="#Ef" x="63" y="1043"/></g><g id="k27-2"><use href="#Df" x="139" y="1043"/></g><g id="k27-3"><use href="#Dfb" x="215" y="1043"/></g><g id="k27-4"><use href="#Bbf" x="291" y="1043"/></g><g id="k27-5"><use href="#Bf" x="367" y="1043"/></g>
<g id="k28-1"><use href="#Ef" x="101" y="1081"/></g><g id="k28-2"><use href="#Df" x="177" y="1081"/></g><g id="k28-3"><use href="#Cf" x="253" y="1081"/></g><g id="k28-4"><use href="#Bf" x="329" y="1081"/></g>
<g id="k29-1"><use href="#Ef" x="63" y="1119"/></g><g id="k29-2"><use href="#Efb" x="139" y="1119"/></g><g id="k29-3"><use href="#Cbf" x="215" y="1119"/></g><g id="k29-4"><use href="#Cf" x="291" y="1119"/></g><g id="k29-5"><use href="#Bf" x="367" y="1119"/></g>
<g id="k30-1"><use href="#Ef" x="101" y="1157"/></g><g id="k30-2"><use href="#Df" x="177" y="1157"/></g><g id="k30-3"><use href="#Cf" x="253" y="1157"/></g><g id="k30-4"><use href="#Cf" x="329" y="1157"/></g>
<g id="k31-1"><use href="#Afb" x="63" y="1195"/></g><g id="k31-2"><use href="#Dbf" x="139" y="1195"/></g><g id="k31-3"><use href="#Df" x="215" y="1195"/></g><g id="k31-4"><use href="#Cf" x="291" y="1195"/></g><g id="k31-5"><use href="#Cf" x="367" y="1195"/></g>
<g id="k32-1"><use href="#Ef" x="101" y="1233"/></g><g id="k32-2"><use href="#Df" x="177" y="1233"/></g><g id="k32-3"><use href="#Df" x="253" y="1233"/></g><g id="k32-4"><use href="#Cf" x="329" y="1233"/></g>
<g id="k33-1"><use href="#Ebf" x="63" y="1271"/></g><g id="k33-2"><use href="#Ef" x="139" y="1271"/></g><g id="k33-3"><use href="#Df" x="215" y="1271"/></g><g id="k33-4"><use href="#Df" x="291" y="1271"/></g><g id="k33-5"><use href="#Cf" x="367" y="1271"/></g>
<g id="k34-1"><use href="#Ef" x="101" y="1309"/></g><g id="k34-2"><use href="#Ef" x="177" y="1309"/></g><g id="k34-3"><use href="#Df" x="253" y="1309"/></g><g id="k34-4"><use href="#Dfb" x="329" y="1309"/></g>
<g id="k35-1"><use href="#Af" x="63" y="1347"/></g><g id="k35-2"><use href="#Ef" x="139" y="1347"/></g><g id="k35-3"><use href="#Ef" x="215" y="1347"/></g><g id="k35-4"><use href="#Df" x="291" y="1347"/></g><g id="k35-5"><use href="#Cf" x="367" y="1347"/></g>
<g id="k36-1"><use href="#Af" x="101" y="1385"/></g><g id="k36-2"><use href="#Ef" x="177" y="1385"/></g><g id="k36-3"><use href="#Efb" x="253" y="1385"/></g><g id="k36-4"><use href="#Cbf" x="329" y="1385"/></g>
<g id="k37-1"><use href="#Af" x="63" y="1423"/></g><g id="k37-2"><use href="#Af" x="139" y="1423"/></g><g id="k37-3"><use href="#Ef" x="215" y="1423"/></g><g id="k37-4"><use href="#Df" x="291" y="1423"/></g><g id="k37-5"><use href="#Cf" x="367" y="1423"/></g>
<g id="k38-1"><use href="#Af" x="101" y="1461"/></g><g id="k38-2"><use href="#Afb" x="177" y="1461"/></g><g id="k38-3"><use href="#Dbf" x="253" y="1461"/></g><g id="k38-4"><use href="#Df" x="329" y="1461"/></g>
<g id="k39-1"><use href="#Bf" x="63" y="1499"/></g><g id="k39-2"><use href="#Af" x="139" y="1499"/></g><g id="k39-3"><use href="#Ef" x="215" y="1499"/></g><g id="k39-4"><use href="#Df" x="291" y="1499"/></g><g id="k39-5"><use href="#Df" x="367" y="1499"/></g>
<g id="k40-1"><use href="#Bfb" x="101" y="1537"/></g><g id="k40-2"><use href="#Ebf" x="177" y="1537"/></g><g id="k40-3"><use href="#Ef" x="253" y="1537"/></g><g id="k40-4"><use href="#Df" x="329" y="1537"/></g>
<g id="k41-1"><use href="#Bf" x="63" y="1575"/></g><g id="k41-2"><use href="#Af" x="139" y="1575"/></g><g id="k41-3"><use href="#Ef" x="215" y="1575"/></g><g id="k41-4"><use href="#Ef" x="291" y="1575"/></g><g id="k41-5"><use href="#Df" x="367" y="1575"/></g>
<g id="k42-1"><use href="#Abf" x="101" y="1613"/></g><g id="k42-2"><use href="#Af" x="177" y="1613"/></g><g id="k42-3"><use href="#Ef" x="253" y="1613"/></g><g id="k42-4"><use href="#Ef" x="329" y="1613"/></g>
<g id="k43-1"><use href="#Bf" x="63" y="1651"/></g><g id="k43-2"><use href="#Af" x="139" y="1651"/></g><g id="k43-3"><use href="#Af" x="215" y="1651"/></g><g id="k43-4"><use href="#Ef" x="291" y="1651"/></g><g id="k43-5"><use href="#Efb" x="367" y="1651"/></g>
<g id="k44-1"><use href="#Bf" x="101" y="1689"/></g><g id="k44-2"><use href="#Af" x="177" y="1689"/></g><g id="k44-3"><use href="#Af" x="253" y="1689"/></g><g id="k44-4"><use href="#Ef" x="329" y="1689"/></g>
<g id="k45-1"><use href="#Bf" x="63" y="1727"/></g><g id="k45-2"><use href="#Bf" x="139" y="1727"/></g><g id="k45-3"><use href="#Af" x="215" y="1727"/></g><g id="k45-4"><use href="#Afb" x="291" y="1727"/></g><g id="k45-5"><use href="#Dbf" x="367" y="1727"/></g>
<g id="k46-1"><use href="#Bf" x="101" y="1765"/></g><g id="k46-2"><use href="#Bf" x="177" y="1765"/></g><g id="k46-3"><use href="#Af" x="253" y="1765"/></g><g id="k46-4"><use href="#Ef" x="329" y="1765"/></g>
<g id="k47-1"><use href="#Cf" x="63" y="1803"/></g><g id="k47-2"><use href="#Bf" x="139" y="1803"/></g><g id="k47-3"><use href="#Bfb" x="215" y="1803"/></g><g id="k47-4"><use href="#Ebf" x="291" y="1803"/></g><g id="k47-5"><use href="#Ef" x="367" y="1803"/></g>
<g id="k48-1"><use href="#Cf" x="101" y="1841"/></g><g id="k48-2"><use href="#Bf" x="177" y="1841"/></g><g id="k48-3"><use href="#Af" x="253" y="1841"/></g><g id="k48-4"><use href="#Ef" x="329" y="1841"/></g>
<g id="k49-1"><use href="#Cf" x="63" y="1879"/></g><g id="k49-2"><use href="#Cfb" x="139" y="1879"/></g><g id="k49-3"><use href="#Abf" x="215" y="1879"/></g><g id="k49-4"><use href="#Af" x="291" y="1879"/></g><g id="k49-5"><use href="#Ef" x="367" y="1879"/></g>
<g id="k50-1"><use href="#Cf" x="101" y="1917"/></g><g id="k50-2"><use href="#Bf" x="177" y="1917"/></g><g id="k50-3"><use href="#Af" x="253" y="1917"/></g><g id="k50-4"><use href="#Af" x="329" y="1917"/></g>
<g id="k51-1"><use href="#Dfb" x="63" y="1955"/></g><g id="k51-2"><use href="#Bbf" x="139" y="1955"/></g><g id="k51-3"><use href="#Bf" x="215" y="1955"/></g><g id="k51-4"><use href="#Af" x="291" y="1955"/></g><g id="k51-5"><use href="#Af" x="367" y="1955"/></g>
<g id="k52-1"><use href="#Cf" x="101" y="1993"/></g><g id="k52-2"><use href="#Bf" x="177" y="1993"/></g><g id="k52-3"><use href="#Bf" x="253" y="1993"/></g><g id="k52-4"><use href="#Af" x="329" y="1993"/></g>
<g id="k53-1"><use href="#Cbf" x="63" y="2031"/></g><g id="k53-2"><use href="#Cf" x="139" y="2031"/></g><g id="k53-3"><use href="#Bf" x="215" y="2031"/></g><g id="k53-4"><use href="#Bf" x="291" y="2031"/></g><g id="k53-5"><use href="#Af" x="367" y="2031"/></g>
<g id="k54-1"><use href="#Cf" x="101" y="2069"/></g><g id="k54-2"><use href="#Cf" x="177" y="2069"/></g><g id="k54-3"><use href="#Bf" x="253" y="2069"/></g><g id="k54-4"><use href="#Bfb" x="329" y="2069"/></g>
<g id="k55-1"><use href="#Df" x="63" y="2107"/></g><g id="k55-2"><use href="#Cf" x="139" y="2107"/></g><g id="k55-3"><use href="#Cf" x="215" y="2107"/></g><g id="k55-4"><use href="#Bf" x="291" y="2107"/></g><g id="k55-5"><use href="#Af" x="367" y="2107"/></g>
<g id="k56-1"><use href="#Df" x="101" y="2145"/></g><g id="k56-2"><use href="#Cf" x="177" y="2145"/></g><g id="k56-3"><use href="#Cfb" x="253" y="2145"/></g><g id="k56-4"><use href="#Abf" x="329" y="2145"/></g>
<g id="k57-1"><use href="#Df" x="63" y="2183"/></g><g id="k57-2"><use href="#Df" x="139" y="2183"/></g><g id="k57-3"><use href="#Cf" x="215" y="2183"/></g><g id="k57-4"><use href="#Bf" x="291" y="2183"/></g><g id="k57-5"><use href="#Af" x="367" y="2183"/></g>
<g id="k58-1"><use href="#Df" x="101" y="2221"/></g><g id="k58-2"><use href="#Dfb" x="177" y="2221"/></g><g id="k58-3"><use href="#Bbf" x="253" y="2221"/></g><g id="k58-4"><use href="#Bf" x="329" y="2221"/></g>
<g id="k59-1"><use href="#Ef" x="63" y="2259"/></g><g id="k59-2"><use href="#Df" x="139" y="2259"/></g><g id="k59-3"><use href="#Cf" x="215" y="2259"/></g><g id="k59-4"><use href="#Bf" x="291" y="2259"/></g><g id="k59-5"><use href="#Bf" x="367" y="2259"/></g>
<g id="k60-1"><use href="#Efb" x="101" y="2297"/></g><g id="k60-2"><use href="#Cbf" x="177" y="2297"/></g><g id="k60-3"><use href="#Cf" x="253" y="2297"/></g><g id="k60-4"><use href="#Bf" x="329" y="2297"/></g>
<g id="k61-1"><use href="#Ef" x="63" y="2335"/></g><g id="k61-2"><use href="#Df" x="139" y="2335"/></g><g id="k61-3"><use href="#Cf" x="215" y="2335"/></g><g id="k61-4"><use href="#Cf" x="291" y="2335"/></g><g id="k61-5"><use href="#Bf" x="367" y="2335"/></g>
<g id="k62-1"><use href="#Dbf" x="101" y="2373"/></g><g id="k62-2"><use href="#Df" x="177" y="2373"/></g><g id="k62-3"><use href="#Cf" x="253" y="2373"/></g><g id="k62-4"><use href="#Cf" x="329" y="2373"/></g>
<g id="k63-1"><use href="#Ef" x="63" y="2411"/></g><g id="k63-2"><use href="#Df" x="139" y="2411"/></g><g id="k63-3"><use href="#Df" x="215" y="2411"/></g><g id="k63-4"><use href="#Cf" x="291" y="2411"/></g><g id="k63-5"><use href="#Cfb" x="367" y="2411"/></g>
<g id="k64-1"><use href="#Ef" x="101" y="2449"/></g><g id="k64-2"><use href="#Df" x="177" y="2449"/></g><g id="k64-3"><use href="#Df" x="253" y="2449"/></g><g id="k64-4"><use href="#Cf" x="329" y="2449"/></g>
<g id="k65-1"><use href="#Ef" x="63" y="2487"/></g><g id="k65-2"><use href="#Ef" x="139" y="2487"/></g><g id="k65-3"><use href="#Df" x="215" y="2487"/></g><g id="k65-4"><use href="#Dfb" x="291" y="2487"/></g><g id="k65-5"><use href="#Bbf" x="367" y="2487"/></g>
<g id="k66-1"><use href="#Ef" x="101" y="2525"/></g><g id="k66-2"><use href="#Ef" x="177" y="2525"/></g><g id="k66-3"><use href="#Df" x="253" y="2525"/></g><g id="k66-4"><use href="#Cf" x="329" y="2525"/></g>
<g id="k67-1"><use href="#Af" x="63" y="2563"/></g><g id="k67-2"><use href="#Ef" x="139" y="2563"/></g><g id="k67-3"><use href="#Efb" x="215" y="2563"/></g><g id="k67-4"><use href="#Cbf" x="291" y="2563"/></g><g id="k67-5"><use href="#Cf" x="367" y="2563"/></g>
<g id="k68-1"><use href="#Af" x="101" y="2601"/></g><g id="k68-2"><use href="#Ef" x="177" y="2601"/></g><g id="k68-3"><use href="#Df" x="253" y="2601"/></g><g id="k68-4"><use href="#Cf" x="329" y="2601"/></g>
<g id="k69-1"><use href="#Af" x="63" y="2639"/></g><g id="k69-2"><use href="#Afb" x="139" y="2639"/></g><g id="k69-3"><use href="#Dbf" x="215" y="2639"/></g><g id="k69-4"><use href="#Df" x="291" y="2639"/></g><g id="k69-5"><use href="#Cf" x="367" y="2639"/></g>
<g id="k70-1"><use href="#Af" x="101" y="2677"/></g><g id="k70-2"><use href="#Ef" x="177" y="2677"/></g><g id="k70-3"><use href="#Df" x="253" y="2677"/></g><g id="k70-4"><use href="#Df" x="329" y="2677"/></g>
<g id="k71-1"><use href="#Bfb" x="63" y="2715"/></g><g id="k71-2"><use href="#Ebf" x="139" y="2715"/></g><g id="k71-3"><use href="#Ef" x="215" y="2715"/></g><g id="k71-4"><use href="#Df" x="291" y="2715"/></g><g id="k71-5"><use href="#Df" x="367" y="2715"/></g>
<g id="k72-1"><use href="#Af" x="101" y="2753"/></g><g id="k72-2"><use href="#Ef" x="177" y="2753"/></g><g id="k72-3"><use href="#Ef" x="253" y="2753"/></g><g id="k72-4"><use href="#Df" x="329" y="2753"/></g>
<g id="k73-1"><use href="#Abf" x="63" y="2791"/></g><g id="k73-2"><use href="#Af" x="139" y="2791"/></g><g id="k73-3"><use href="#Ef" x="215" y="2791"/></g><g id="k73-4"><use href="#Ef" x="291" y="2791"/></g><g id="k73-5"><use href="#Df" x="367" y="2791"/></g>
<g id="k74-1"><use href="#Af" x="101" y="2829"/></g><g id="k74-2"><use href="#Af" x="177" y="2829"/></g><g id="k74-3"><use href="#Ef" x="253" y="2829"/></g><g id="k74-4"><use href="#Efb" x="329" y="2829"/></g>
<g id="k75-1"><use href="#Bf" x="63" y="2867"/></g><g id="k75-2"><use href="#Af" x="139" y="2867"/></g><g id="k75-3"><use href="#Af" x="215" y="2867"/></g><g id="k75-4"><use href="#Ef" x="291" y="2867"/></g><g id="k75-5"><use href="#Df" x="367" y="2867"/></g>
<g id="k76-1"><use href="#Bf" x="101" y="2905"/></g><g id="k76-2"><use href="#Af" x="177" y="2905"/></g><g id="k76-3"><use href="#Afb" x="253" y="2905"/></g><g id="k76-4"><use href="#Dbf" x="329" y="2905"/></g>
<g id="k77-1"><use href="#Bf" x="63" y="2943"/></g><g id="k77-2"><use href="#Bf" x="139" y="2943"/></g><g id="k77-3"><use href="#Af" x="215" y="2943"/></g><g id="k77-4"><use href="#Ef" x="291" y="2943"/></g><g id="k77-5"><use href="#Df" x="367" y="2943"/></g>
<g id="k78-1"><use href="#Bf" x="101" y="2981"/></g><g id="k78-2"><use href="#Bfb" x="177" y="2981"/></g><g id="k78-3"><use href="#Ebf" x="253" y="2981"/></g><g id="k78-4"><use href="#Ef" x="329" y="2981"/></g>
<g id="k79-1"><use href="#Cf" x="63" y="3019"/></g><g id="k79-2"><use href="#Bf" x="139" y="3019"/></g><g id="k79-3"><use href="#Af" x="215" y="3019"/></g><g id="k79-4"><use href="#Ef" x="291" y="3019"/></g><g id="k79-5"><use href="#Ef" x="367" y="3019"/></g>
<g id="k80-1"><use href="#Cfb" x="101" y="3057"/></g><g id="k80-2"><use href="#Abf" x="177" y="3057"/></g><g id="k80-3"><use href="#Af" x="253" y="3057"/></g><g id="k80-4"><use href="#Ef" x="329" y="3057"/></g>
<g id="k81-1"><use href="#Cf" x="63" y="3095"/></g><g id="k81-2"><use href="#Bf" x="139" y="3095"/></g><g id="k81-3"><use href="#Af" x="215" y="3095"/></g><g id="k81-4"><use href="#Af" x="291" y="3095"/></g><g id="k81-5"><use href="#Ef" x="367" y="3095"/></g>
<g id="k82-1"><use href="#Bbf" x="101" y="3133"/></g><g id="k82-2"><use href="#Bf" x="177" y="3133"/></g><g id="k82-3"><use href="#Af" x="253" y="3133"/></g><g id="k82-4"><use href="#Af" x="329" y="3133"/></g>
<g id="k83-1"><use href="#Cf" x="63" y="3171"/></g><g id="k83-2"><use href="#Bf" x="139" y="3171"/></g><g id="k83-3"><use href="#Bf" x="215" y="3171"/></g><g id="k83-4"><use href="#Af" x="291" y="3171"/></g><g id="k83-5"><use href="#Afb" x="367" y="3171"/></g>
<g id="k84-1"><use href="#Cf" x="101" y="3209"/></g><g id="k84-2"><use href="#Bf" x="177" y="3209"/></g><g id="k84-3"><use href="#Bf" x="253" y="3209"/></g><g id="k84-4"><use href="#Af" x="329" y="3209"/></g>
<g id="k85-1"><use href="#Cf" x="63" y="3247"/></g><g id="k85-2"><use href="#Cf" x="139" y="3247"/></g><g id="k85-3"><use href="#Bf" x="215" y="3247"/></g><g id="k85-4"><use href="#Bfb" x="291" y="3247"/></g><g id="k85-5"><use href="#Ebf" x="367" y="3247"/></g>
<g id="k86-1"><use href="#Cf" x="101" y="3285"/></g><g id="k86-2"><use href="#Cf" x="177" y="3285"/></g><g id="k86-3"><use href="#Bf" x="253" y="3285"/></g><g id="k86-4"><use href="#Af" x="329" y="3285"/></g>
<g id="k87-1"><use href="#Df" x="63" y="3323"/></g><g id="k87-2"><use href="#Cf" x="139" y="3323"/></g><g id="k87-3"><use href="#Cfb" x="215" y="3323"/></g><g id="k87-4"><use href="#Abf" x="291" y="3323"/></g><g id="k87-5"><use href="#Af" x="367" y="3323"/></g>
<g id="k88-1"><use href="#Df" x="101" y="3361"/></g><g id="k88-2"><use href="#Cf" x="177" y="3361"/></g><g id="k88-3"><use href="#Bf" x="253" y="3361"/></g><g id="k88-4"><use href="#Af" x="329" y="3361"/></g>
<g id="k89-1"><use href="#Df" x="63" y="3399"/></g><g id="k89-2"><use href="#Dfb" x="139" y="3399"/></g><g id="k89-3"><use href="#Bbf" x="215" y="3399"/></g><g id="k89-4"><use href="#Bf" x="291" y="3399"/></g><g id="k89-5"><use href="#Af" x="367" y="3399"/></g>
<g id="k90-1"><use href="#Df" x="101" y="3437"/></g><g id="k90-2"><use href="#Cf" x="177" y="3437"/></g><g id="k90-3"><use href="#Bf" x="253" y="3437"/></g><g id="k90-4"><use href="#Bf" x="329" y="3437"/></g>
<g id="k91-1"><use href="#Efb" x="63" y="3475"/></g><g id="k91-2"><use href="#Cbf" x="139" y="3475"/></g><g id="k91-3"><use href="#Cf" x="215" y="3475"/></g><g id="k91-4"><use href="#Bf" x="291" y="3475"/></g><g id="k91-5"><use href="#Bf" x="367" y="3475"/></g>
<g id="k92-1"><use href="#Df" x="101" y="3513"/></g><g id="k92-2"><use href="#Cf" x="177" y="3513"/></g><g id="k92-3"><use href="#Cf" x="253" y="3513"/></g><g id="k92-4"><use href="#Bf" x="329" y="3513"/></g>
<g id="k93-1"><use href="#Dbf" x="63" y="3551"/></g><g id="k93-2"><use href="#Df" x="139" y="3551"/></g><g id="k93-3"><use href="#Cf" x="215" y="3551"/></g><g id="k93-4"><use href="#Cf" x="291" y="3551"/></g><g id="k93-5"><use href="#Bf" x="367" y="3551"/></g>
<g id="k94-1"><use href="#Df" x="101" y="3589"/></g><g id="k94-2"><use href="#Df" x="177" y="3589"/></g><g id="k94-3"><use href="#Cf" x="253" y="3589"/></g><g id="k94-4"><use href="#Cfb" x="329" y="3589"/></g>
<g id="k95-1"><use href="#Ef" x="63" y="3627"/></g><g id="k95-2"><use href="#Df" x="139" y="3627"/></g><g id="k95-3"><use href="#Df" x="215" y="3627"/></g><g id="k95-4"><use href="#Cf" x="291" y="3627"/></g><g id="k95-5"><use href="#Bf" x="367" y="3627"/></g>
<g id="k96-1"><use href="#Ef" x="101" y="3665"/></g><g id="k96-2"><use href="#Df" x="177" y="3665"/></g><g id="k96-3"><use href="#Dfb" x="253" y="3665"/></g><g id="k96-4"><use href="#Bbf" x="329" y="3665"/></g>
<g id="k97-1"><use href="#Ef" x="63" y="3703"/></g><g id="k97-2"><use href="#Ef" x="139" y="3703"/></g><g id="k97-3"><use href="#Df" x="215" y="3703"/></g><g id="k97-4"><use href="#Cf" x="291" y="3703"/></g><g id="k97-5"><use href="#Bf" x="367" y="3703"/></g>
<g id="k98-1"><use href="#Ef" x="101" y="3741"/></g><g id="k98-2"><use href="#Efb" x="177" y="3741"/></g><g id="k98-3"><use href="#Cbf" x="253" y="3741"/></g><g id="k98-4"><use href="#Cf" x="329" y="3741"/></g>
<g id="k99-1"><use href="#Af" x="63" y="3779"/></g><g id="k99-2"><use href="#Ef" x="139" y="3779"/></g><g id="k99-3"><use href="#Df" x="215" y="3779"/></g><g id="k99-4"><use href="#Cf" x="291" y="3779"/></g><g id="k99-5"><use href="#Cf" x="367" y="3779"/></g>
<g id="k100-1"><use href="#Afb" x="101" y="3817"/></g><g id="k100-2"><use href="#Dbf" x="177" y="3817"/></g><g id="k100-3"><use href="#Df" x="253" y="3817"/></g><g id="k100-4"><use href="#Cf" x="329" y="3817"/></g>
</g>
<g id="strings-top" class="sl"><text x="44" y="17">A</text><text x="82" y="17">A</text><text x="120" y="17">E</text><text x="158" y="17">E</text><text x="196" y="17">D</text><text x="234" y="17">B</text><text x="272" y="17">D</text><text x="310" y="17">B</text><text x="348" y="17">C</text><text x="386" y="17">C</text></g>
<use href="#strings-top" y="3848"/>
<text class="wm" x="215" y="1941" textLength="150" lengthAdjust="spacingAndGlyphs">BRACELETBOOK.COM</text>
</svg>
